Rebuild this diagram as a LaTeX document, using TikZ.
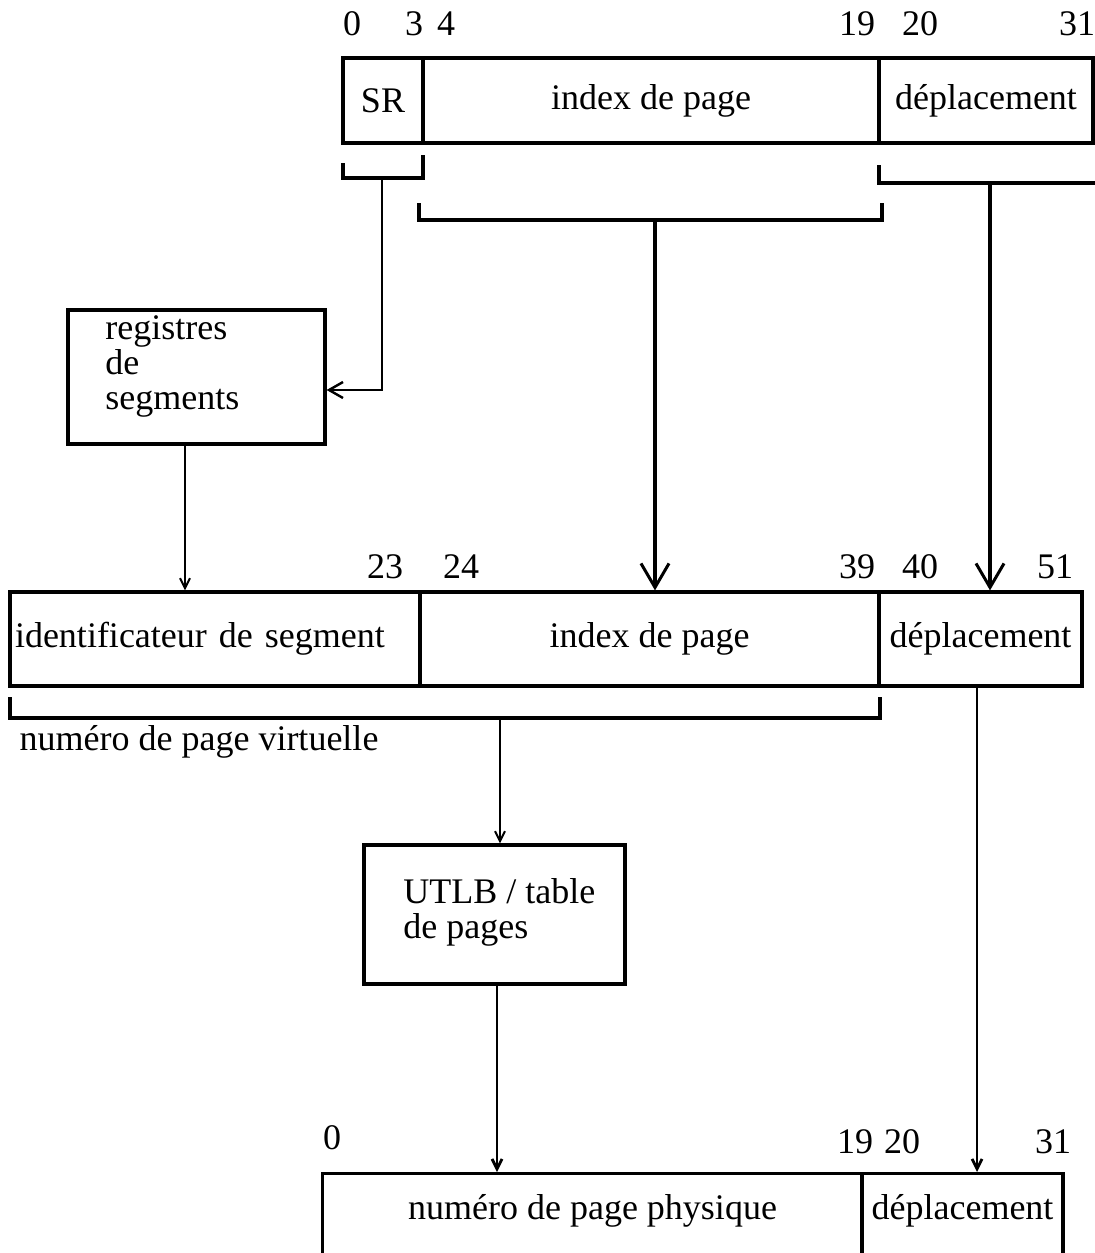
\documentclass[tikz,border=0pt]{standalone}
\usepackage{fontspec}
\setmainfont{Liberation Serif}
\usetikzlibrary{arrows.meta}

\begin{document}
\begin{tikzpicture}[x=0.5pt,y=-0.5pt,
  every node/.style={font=\fontsize{18}{17.5}\selectfont},
  field/.style={draw, line width=1.6pt, inner sep=0pt},
  brk/.style={line width=1.6pt},
  thinarr/.style={line width=1pt, -{Straight Barb[length=5pt,width=5pt]}},
  midarr/.style={line width=1.2pt, -{Straight Barb[length=7pt,width=8pt]}},
  bigarr/.style={line width=1.6pt, -{Straight Barb[length=12pt,width=14pt,line width=1.5pt]}}]
\useasboundingbox (0,0) rectangle (1095,1253);
% adresse effective
\node[field, minimum width=40pt, minimum height=42.5pt] (sr) at (383,100.5) {SR};
\node[field, minimum width=228pt, minimum height=42.5pt] (idx) at (651,100.5) {index de page};
\node[field, minimum width=107pt, minimum height=42.5pt] (dep) at (986,100.5) {d\'eplacement};
\node (e0) at (352,24) {0};
\node (e3) at (414,24) {3};
\node (e4) at (446,24) {4};
\node (e19) at (857,24) {19};
\node (e20) at (920,24) {20};
\node (e31) at (1077,24) {31};
% accolades
\draw[brk] (343,163) -- (343,178) -- (423,178) -- (423,155);
\draw[brk] (419,203) -- (419,220) -- (882,220) -- (882,203);
\draw[brk] (879,165) -- (879,183) -- (1095,183);
\coordinate (srb) at (382,178);
\coordinate (idxb) at (655,220);
\coordinate (depb) at (990,183);
% registres de segments
\node[field, minimum width=128.5pt, minimum height=67pt] (regs) at (196.5,377) {};
\node[anchor=north west, align=left, inner sep=0pt] (regstxt) at (105,315) {registres\\de\\segments};
\draw[midarr] (srb) |- ([yshift=-6.5pt]regs.east);
% adresse virtuelle
\node[field, minimum width=205pt, minimum height=47pt, text width=200pt, align=left, inner xsep=2.5pt] (ident) at (215,639) {identificateur de segment};
\node[field, minimum width=229.5pt, minimum height=47pt] (idx2) at (649.5,639) {index de page};
\node[field, minimum width=101.5pt, minimum height=47pt] (dep2) at (980.5,639) {d\'eplacement};
\node (v23) at (385,567) {23};
\node (v24) at (461,567) {24};
\node (v39) at (857,567) {39};
\node (v40) at (920,567) {40};
\node (v51) at (1055,567) {51};
\draw[thinarr] ([xshift=-5.75pt]regs.south) -- ([xshift=-5.75pt]regs.south |- ident.north);
\draw[bigarr] (idxb) -- (idxb |- idx2.north);
\draw[bigarr] (depb) -- (depb |- dep2.north);
\draw[brk] (10,697) -- (10,718) -- (880,718) -- (880,697);
\node (vpn) at (199,742) {num\'ero de page virtuelle};
\coordinate (vpnb) at (500,718);
% traduction
\node[field, minimum width=130.5pt, minimum height=69.5pt] (utlb) at (494.5,914.5) {};
\node[anchor=north west, align=left, inner sep=0pt] (utlbtxt) at (403,878) {UTLB / table\\de pages};
\draw[thinarr] (vpnb) -- (vpnb |- utlb.north);
% adresse physique
\node[field, anchor=north, minimum width=270pt, minimum height=60pt, text height=13pt, text depth=27pt] (phys) at (592.5,1172) {num\'ero de page physique};
\node[field, anchor=north, minimum width=100.5pt, minimum height=60pt, text height=13pt, text depth=27pt] (dep3) at (962.5,1172) {d\'eplacement};
\node (p0) at (332,1138) {0};
\node (p19) at (855,1142) {19};
\node (p20) at (902,1142) {20};
\node (p31) at (1053,1142) {31};
\draw[thinarr, line width=1.4pt] ([xshift=1.25pt]utlb.south) -- ([xshift=1.25pt]utlb.south |- phys.north);
\draw[thinarr, line width=1.4pt] ([xshift=-1.75pt]dep2.south) -- ([xshift=-1.75pt]dep2.south |- dep3.north);
\end{tikzpicture}
\end{document}
